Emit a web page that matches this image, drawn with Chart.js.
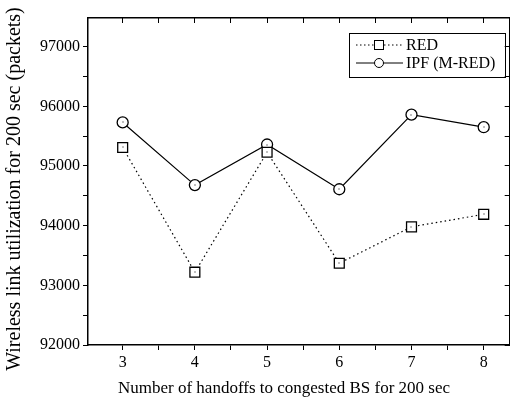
<!DOCTYPE html>
<html>
<head>
<meta charset="utf-8">
<script src="https://cdn.jsdelivr.net/npm/chart.js@4"></script>
<style>
  html, body { margin: 0; padding: 0; background: #fff; }
  #wrap { width: 518px; height: 403px; }
</style>
</head>
<body>
<div id="wrap"><canvas id="myChart" width="518" height="403"></canvas></div>
<script>
const handoffs = [3, 4, 5, 6, 7, 8];
const redValues = [95310, 93220, 95230, 93370, 93980, 94190];
const ipfValues = [95730, 94680, 95360, 94610, 95860, 95650];
const yTickLabels = [92000, 93000, 94000, 95000, 96000, 97000];

const xTitle = 'Number of handoffs to congested BS for 200 sec';
const yTitle = 'Wireless link utilization for 200 sec (packets)';

const serif = "'Liberation Serif', 'DejaVu Serif', serif";

const toPoints = vals => handoffs.map((x, i) => ({ x: x, y: vals[i] }));

// legend box inside the plot, drawn by hand
const boxLegend = {
  id: 'boxLegend',
  afterDraw(chart) {
    const c = chart.ctx;
    c.save();
    c.strokeStyle = '#000';
    c.lineWidth = 1;
    c.strokeRect(349.5, 33.5, 156, 44);
    c.font = '16px ' + serif;
    c.fillStyle = '#000';
    c.textBaseline = 'middle';
    // RED row
    c.setLineDash([1.5, 2.5]);
    c.beginPath(); c.moveTo(356, 45); c.lineTo(403, 45); c.stroke();
    c.setLineDash([]);
    c.fillStyle = '#fff';
    c.fillRect(374.5, 40.5, 9, 9);
    c.strokeRect(374.5, 40.5, 9, 9);
    c.fillStyle = '#000';
    c.fillText('RED', 406, 46);
    // IPF row
    c.beginPath(); c.moveTo(356, 63); c.lineTo(403, 63); c.stroke();
    c.beginPath(); c.arc(379, 63, 4.5, 0, Math.PI * 2);
    c.fillStyle = '#fff'; c.fill(); c.stroke();
    c.fillStyle = '#000';
    c.fillText('IPF (M-RED)', 406, 64);
    c.restore();
  }
};

// axis titles sit a bit off-centre in the scan, so they are placed by hand
const axisTitles = {
  id: 'axisTitles',
  afterDraw(chart) {
    const c = chart.ctx;
    c.save();
    c.fillStyle = '#000';
    c.textAlign = 'center';
    c.textBaseline = 'middle';
    c.font = '17px ' + serif;
    c.fillText(xTitle, 284, 389);
    c.translate(15, 189);
    c.rotate(-Math.PI / 2);
    c.font = '20px ' + serif;
    c.fillText(yTitle, 0, 0);
    c.restore();
  }
};

// small dot in the middle of every marker, as in the scan
const centreDots = {
  id: 'centreDots',
  afterDatasetsDraw(chart) {
    const c = chart.ctx;
    c.save();
    c.fillStyle = '#000';
    chart.data.datasets.forEach((ds, i) => {
      chart.getDatasetMeta(i).data.forEach(pt => {
        c.fillRect(Math.round(pt.x) - 0.5, Math.round(pt.y) - 0.5, 1, 1);
      });
    });
    c.restore();
  }
};

const halfSteps = (a, b, s) => {
  const t = [];
  for (let v = a; v <= b; v += s) t.push({ value: v });
  return t;
};

const ctx = document.getElementById('myChart');

new Chart(ctx, {
  type: 'line',
  data: {
    datasets: [
      {
        label: 'RED',
        data: toPoints(redValues),
        borderColor: '#000',
        borderWidth: 1.2,
        borderDash: [1.5, 3],
        pointStyle: 'rect',
        pointRadius: 7,
        pointBorderWidth: 1.3,
        pointBackgroundColor: '#fff',
        pointBorderColor: '#000',
        tension: 0
      },
      {
        label: 'IPF (M-RED)',
        data: toPoints(ipfValues),
        borderColor: '#000',
        borderWidth: 1.2,
        pointStyle: 'circle',
        pointRadius: 5.5,
        pointBorderWidth: 1.3,
        pointBackgroundColor: '#fff',
        pointBorderColor: '#000',
        tension: 0
      }
    ]
  },
  options: {
    responsive: false,
    animation: false,
    layout: { padding: 0 },
    plugins: {
      legend: { display: false },
      tooltip: { enabled: false }
    },
    scales: {
      x: {
        type: 'linear',
        position: 'bottom',
        min: 2.52,
        max: 8.36,
        afterFit(scale) { scale.height = 58; },
        afterBuildTicks(scale) { scale.ticks = halfSteps(3, 8, 0.5); },
        ticks: {
          color: '#000',
          font: { family: serif, size: 16 },
          padding: 3,
          maxRotation: 0,
          autoSkip: false,
          callback: v => Number.isInteger(v) ? String(v) : ''
        },
        grid: { drawOnChartArea: false, drawTicks: true, tickLength: 5, color: '#000' },
        border: { color: '#000', width: 1.5 }
      },
      x2: {
        type: 'linear',
        position: 'top',
        min: 2.52,
        max: 8.36,
        afterFit(scale) { scale.height = 18; },
        afterBuildTicks(scale) { scale.ticks = halfSteps(3, 8, 0.5); },
        ticks: { display: false },
        grid: { drawOnChartArea: false, drawTicks: true, tickLength: -5, color: '#000' },
        border: { color: '#000', width: 1.5 }
      },
      y: {
        position: 'left',
        min: 92000,
        max: 97480,
        afterFit(scale) { scale.width = 88; },
        afterBuildTicks(scale) { scale.ticks = halfSteps(92000, 97000, 500); },
        ticks: {
          color: '#000',
          font: { family: serif, size: 16 },
          padding: 3,
          autoSkip: false,
          callback: v => yTickLabels.includes(v) ? String(v) : ''
        },
        grid: { drawOnChartArea: false, drawTicks: true, tickLength: 5, color: '#000' },
        border: { color: '#000', width: 1.5 }
      },
      y2: {
        position: 'right',
        min: 92000,
        max: 97480,
        afterFit(scale) { scale.width = 6; },
        afterBuildTicks(scale) { scale.ticks = halfSteps(92000, 97000, 500); },
        ticks: { display: false },
        grid: { drawOnChartArea: false, drawTicks: true, tickLength: -5, color: '#000' },
        border: { color: '#000', width: 1 }
      }
    }
  },
  plugins: [boxLegend, axisTitles, centreDots]
});
</script>
</body>
</html>
